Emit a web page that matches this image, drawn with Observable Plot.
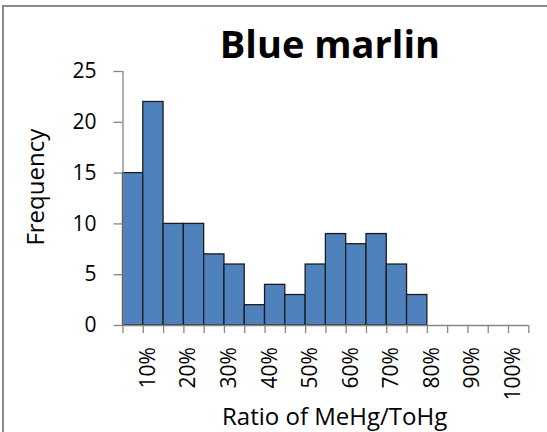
<!DOCTYPE html>
<html>
<head>
<meta charset="utf-8">
<script src="https://cdn.jsdelivr.net/npm/d3@7"></script>
<script src="https://cdn.jsdelivr.net/npm/@observablehq/plot@0.6"></script>
<style>
  html, body { margin: 0; padding: 0; background: #fff; overflow: hidden; }
  #wrap { position: relative; width: 547px; height: 432px; overflow: hidden; }
  #border { position: absolute; left: 2px; top: 5px; width: 600px; height: 500px; border: 2px solid #8a8a8a; box-sizing: border-box; pointer-events: none; }
  #chart { position: absolute; left: 0; top: 0; }
</style>
</head>
<body>
<div id="wrap">
  <div id="chart"></div>
  <div id="border"></div>
</div>
<script>
const title = "Blue marlin";
const xTitle = "Ratio of MeHg/ToHg";
const yTitle = "Frequency";
// bin lower edges (percent) and frequencies
const binStart = [0, 5, 10, 15, 20, 25, 30, 35, 40, 45, 50, 55, 60, 65, 70, 75];
const binWidth = 5;
const counts = [15, 22, 10, 10, 7, 6, 2, 4, 3, 6, 9, 8, 9, 6, 3, 0];
const xTickMarks = [0, 5, 10, 15, 20, 25, 30, 35, 40, 45, 50, 55, 60, 65, 70, 75, 80, 85, 90, 95, 100];
// category labels = bin upper edges (every other one shown)
const xTickLabels = [10, 20, 30, 40, 50, 60, 70, 80, 90, 100];
const yTicks = [0, 5, 10, 15, 20, 25];

const bins = binStart.map((s, i) => ({x1: s, x2: s + binWidth, count: counts[i]})).filter(d => d.count > 0);

const axisGray = "#868686";

const chart = Plot.plot({
  width: 547,
  height: 432,
  marginLeft: 122.5,
  marginRight: 18.7,
  marginTop: 71,
  marginBottom: 107,
  style: {fontFamily: "'Open Sans', sans-serif", fontSize: "21px", color: "#000", background: "transparent"},
  x: {type: "linear", domain: [0, 100]},
  y: {domain: [0, 25]},
  marks: [
    Plot.rectY(bins, {x1: "x1", x2: "x2", y: "count", fill: "#4F81BD", stroke: "#1c1c1c", strokeWidth: 1.3, inset: 0}),
    Plot.ruleY([0], {stroke: axisGray, strokeWidth: 1.3}),
    Plot.ruleX([0], {stroke: axisGray, strokeWidth: 1.3}),
    Plot.axisY({ticks: yTicks, tickSize: 9, tickPadding: 17.5, label: null, stroke: axisGray, strokeWidth: 1.3, fontSize: 21}),
    Plot.axisX({ticks: xTickMarks, tickSize: 8, tickFormat: () => "", label: null, stroke: axisGray, strokeWidth: 1.3}),
    Plot.text(xTickLabels, {x: d => d - binWidth / 2, text: d => d + "%", frameAnchor: "bottom", rotate: -90, textAnchor: "end", lineAnchor: "middle", dx: -5.4, dy: 21.7, fontSize: 21, fill: "#000"}),
    Plot.text([title], {frameAnchor: "top", textAnchor: "middle", lineAnchor: "middle", dx: 4, dy: -26, fontSize: 38, fontWeight: "bold", fill: "#000"}),
    Plot.text([xTitle], {frameAnchor: "bottom", textAnchor: "middle", lineAnchor: "middle", dx: 8.7, dy: 92.3, fontSize: 24, fill: "#000"}),
    Plot.text([yTitle], {frameAnchor: "left", rotate: -90, textAnchor: "middle", lineAnchor: "middle", dx: -86.7, dy: -11.3, fontSize: 24, fill: "#000"})
  ]
});
document.getElementById("chart").appendChild(chart);
</script>
</body>
</html>
